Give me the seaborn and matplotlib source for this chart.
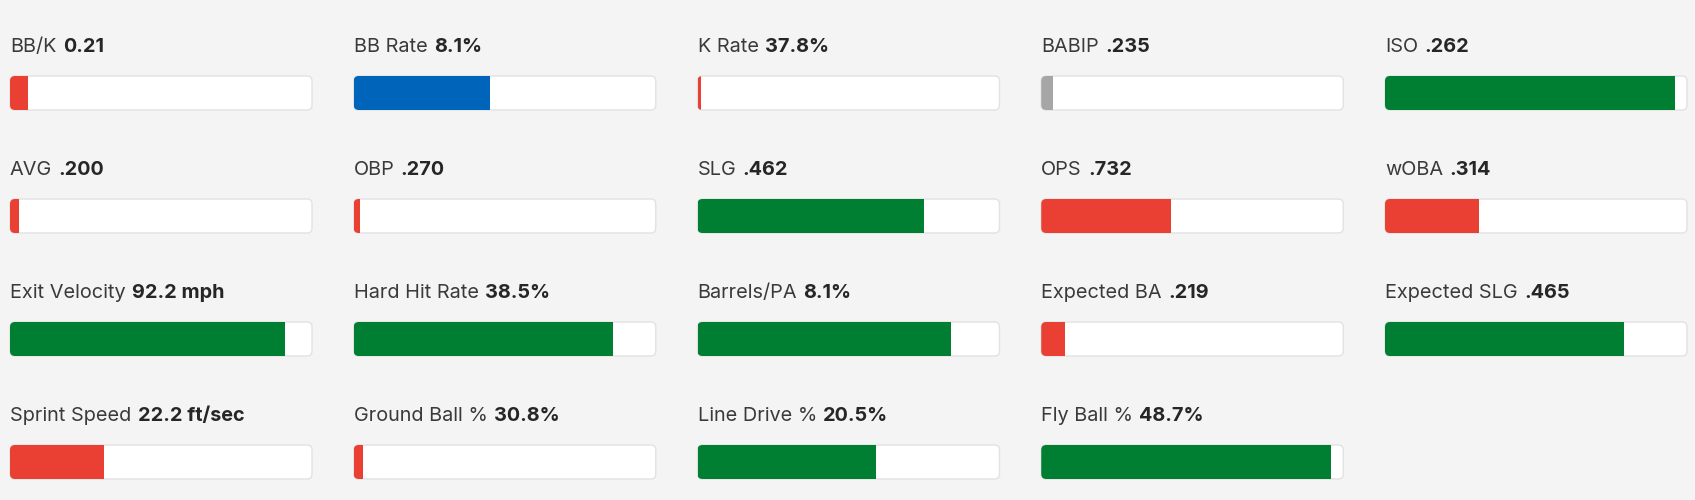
import matplotlib
matplotlib.use("Agg")
import matplotlib.pyplot as plt
from matplotlib.patches import FancyBboxPatch
import seaborn as sns

# Percentile bars, laid out row by row (5 columns, last slot empty)
metrics = ["BB/K", "BB Rate", "K Rate", "BABIP", "ISO",
           "AVG", "OBP", "SLG", "OPS", "wOBA",
           "Exit Velocity", "Hard Hit Rate", "Barrels/PA", "Expected BA", "Expected SLG",
           "Sprint Speed", "Ground Ball %", "Line Drive %", "Fly Ball %"]
values = ["0.21", "8.1%", "37.8%", ".235", ".262",
          ".200", ".270", ".462", ".732", ".314",
          "92.2 mph", "38.5%", "8.1%", ".219", ".465",
          "22.2 ft/sec", "30.8%", "20.5%", "48.7%"]
percentiles = [6, 45, 1, 4, 96,
               3, 2, 75, 43, 31,
               91, 86, 84, 8, 79,
               31, 3, 59, 96]
tiers = ["low", "avg", "low", "neutral", "high",
         "low", "low", "high", "low", "low",
         "high", "high", "high", "low", "high",
         "low", "low", "high", "high"]

tier_colors = {"low": "#ea4034", "avg": "#0064ba", "high": "#007e32", "neutral": "#a6a6a6"}

sns.set_theme(style="white")
plt.rcParams["font.family"] = ["Inter", "DejaVu Sans"]

W, H = 1695, 500
fig = plt.figure(figsize=(W / 100, H / 100), dpi=100)
fig.patch.set_facecolor("#f4f4f4")

bar_w, bar_h = 302, 34
col_step, row_step = 343.75, 123

for i, name in enumerate(metrics):
    r, c = divmod(i, 5)
    x0 = 10 + c * col_step
    y0 = 76 + r * row_step
    ax = fig.add_axes([x0 / W, 1 - (y0 + bar_h) / H, bar_w / W, bar_h / H])

    # rounded white track
    xu = 100 / bar_w          # data units per pixel in x
    yu = 1 / bar_h            # data units per pixel in y
    track = FancyBboxPatch((0, -0.5), 100, 1,
                           boxstyle=f"round,pad=0,rounding_size={5 * xu}",
                           mutation_aspect=yu / xu,
                           facecolor="white", edgecolor="#e2e2e2", lw=1,
                           zorder=0, clip_on=False)
    ax.add_patch(track)

    sns.barplot(x=[percentiles[i]], y=[name], orient="h", ax=ax,
                color=tier_colors[tiers[i]], width=1, linewidth=0,
                saturation=1)
    for p in ax.patches:
        if p is not track:
            p.set_clip_path(track)
            p.set_zorder(1)

    ax.set_xlim(0, 100)
    ax.set_ylim(0.5, -0.5)
    ax.axis("off")

    lbl = ax.text(0, -0.5 - 24 * yu, name, fontsize=14.3, color="#3a3a3a",
                  ha="left", va="baseline", transform=ax.transData)
    ax.annotate(values[i], xy=(1, 0), xycoords=lbl, xytext=(4.5, 0),
                textcoords="offset points", fontsize=14.3, fontweight="bold",
                color="#262626", ha="left", va="bottom")

fig.savefig("out.png", dpi=100, facecolor=fig.get_facecolor())
